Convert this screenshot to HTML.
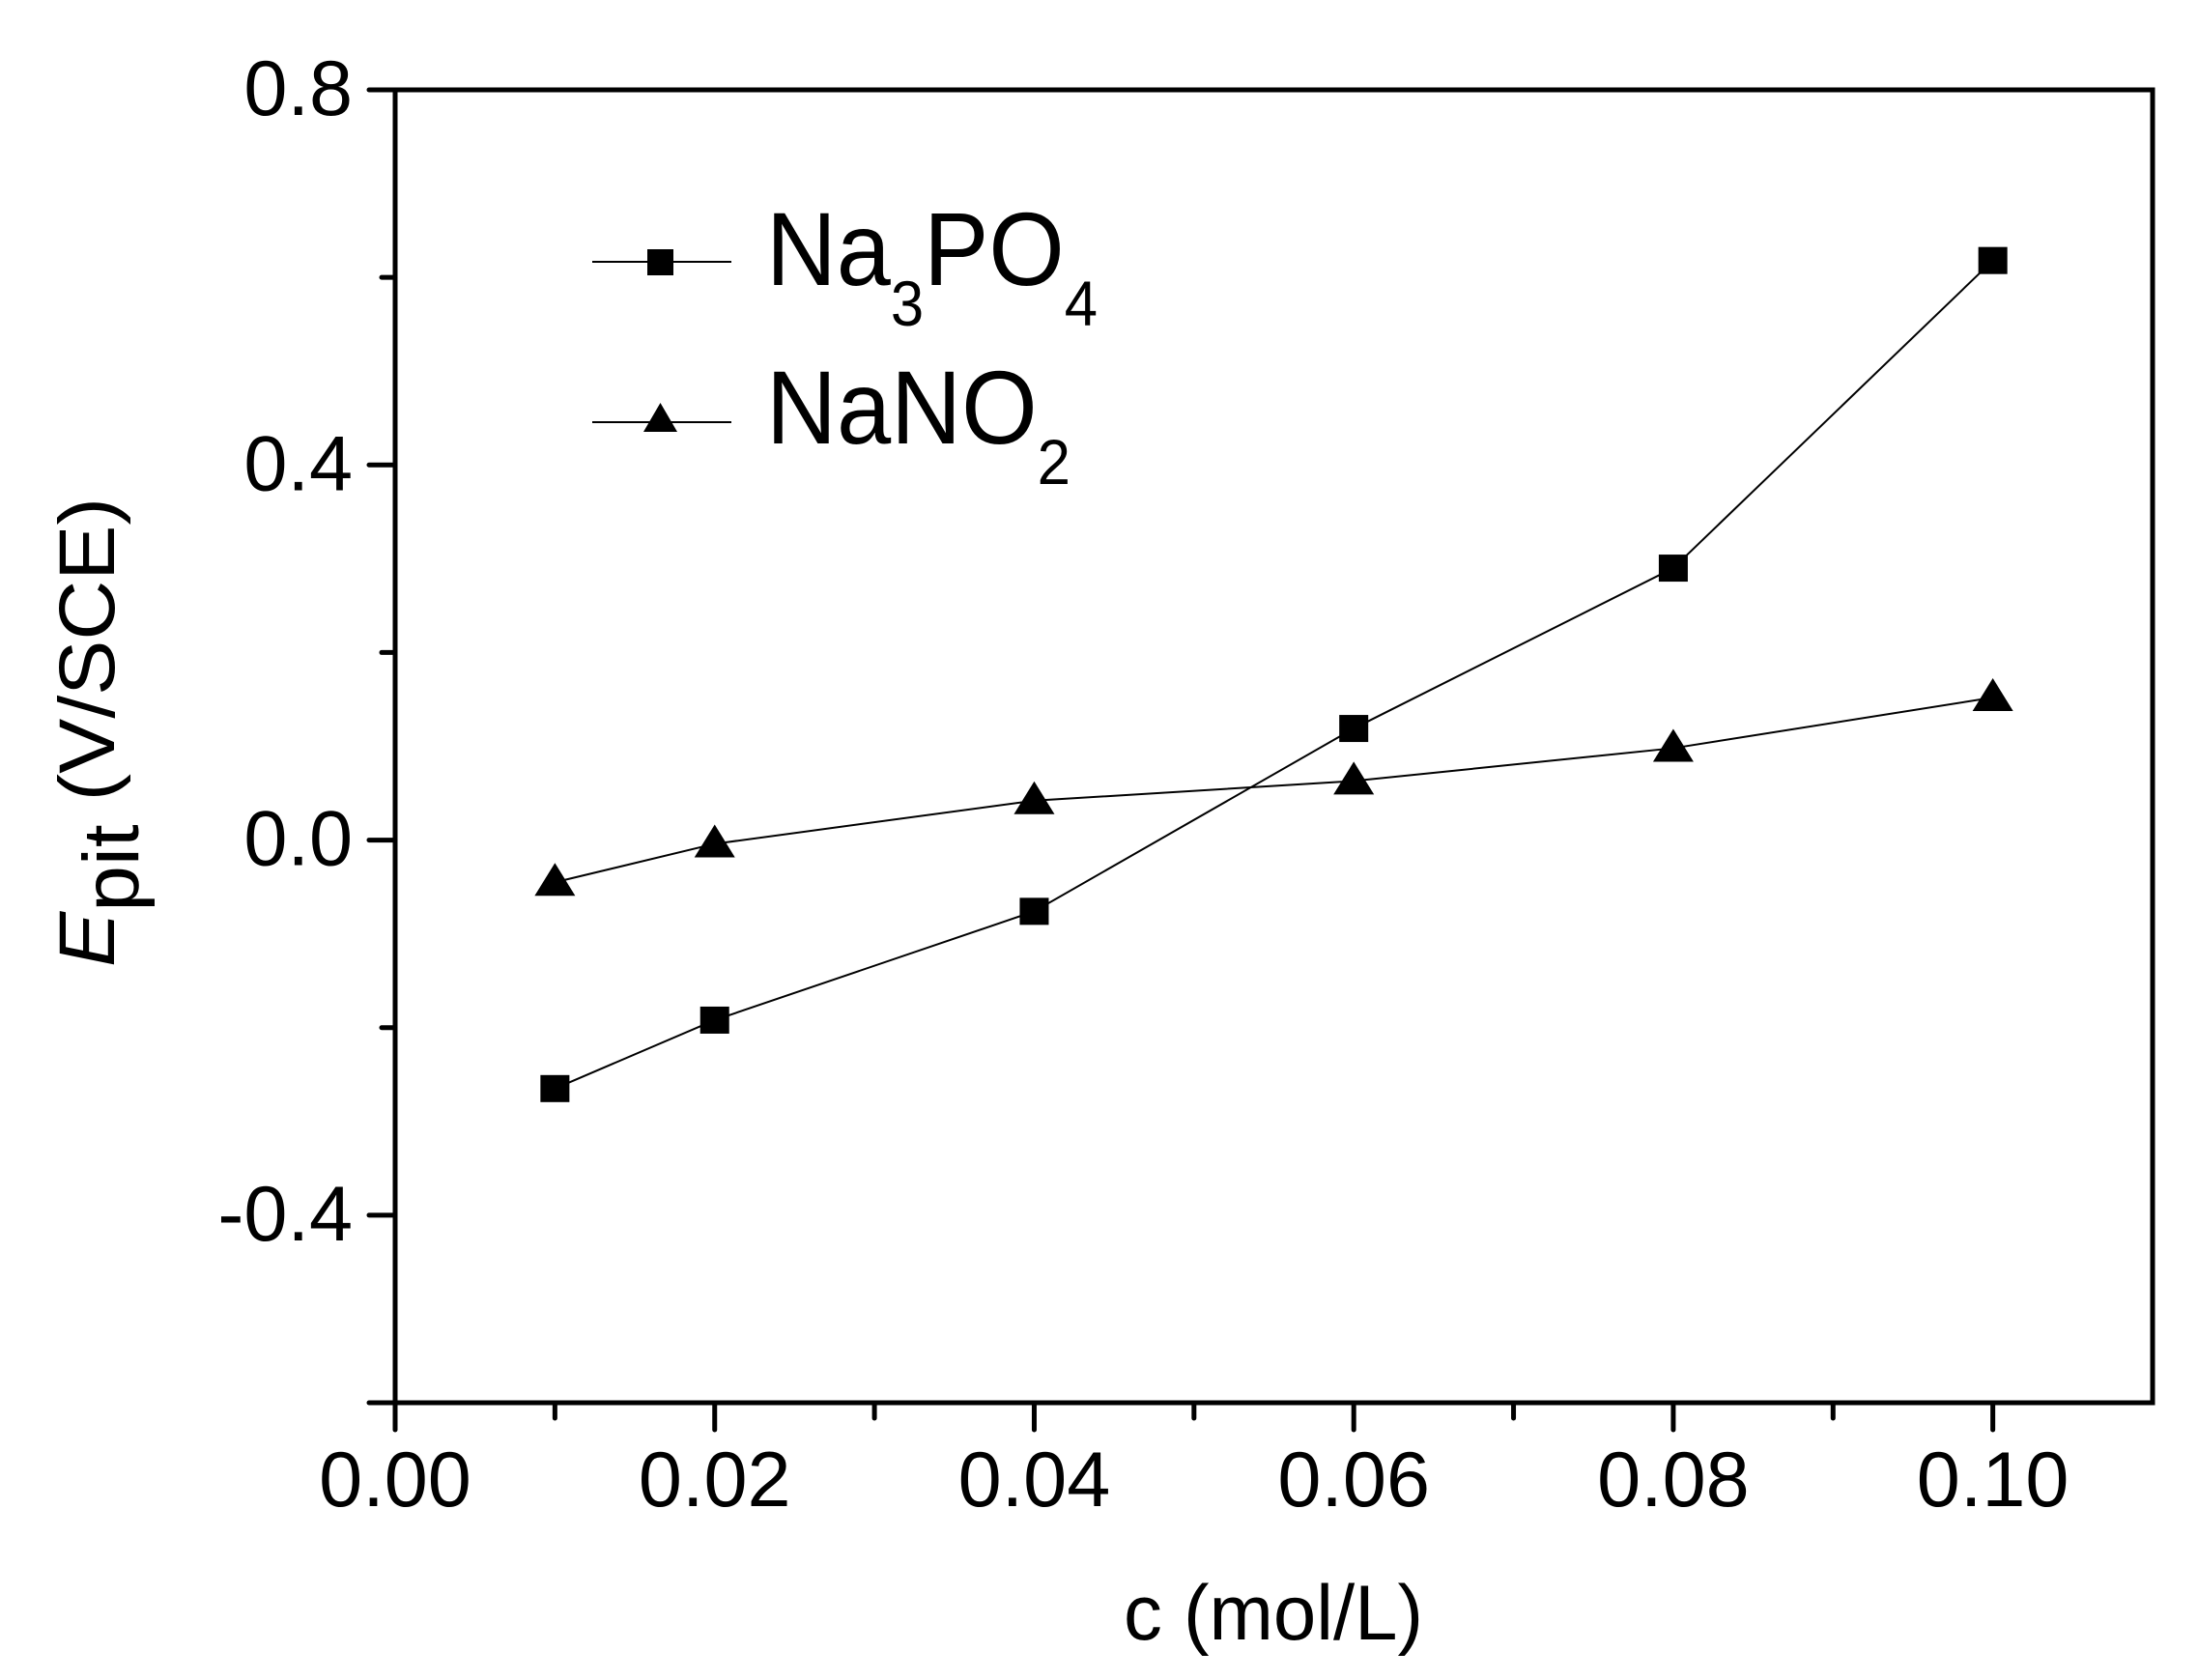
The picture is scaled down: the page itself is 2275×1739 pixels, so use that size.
<!DOCTYPE html>
<html><head><meta charset="utf-8"><style>
html,body{margin:0;padding:0;background:#fff;}
svg{display:block;font-family:"Liberation Sans",Arial,sans-serif;}
</style></head><body>
<svg id="chart" width="2275" height="1739" viewBox="0 0 2275 1739" xmlns="http://www.w3.org/2000/svg">
<rect width="2275" height="1739" fill="#fff"/>
<g id="axes"></g>
<g id="series"></g>
<g id="legend">
  <line x1="613" y1="271" x2="757" y2="271" stroke="#000" stroke-width="2"/>
  <rect x="670" y="258" width="27" height="27" fill="#000"/>
  <text x="793" y="295" font-size="108" textLength="343" lengthAdjust="spacingAndGlyphs">Na<tspan font-size="66" dy="42">3</tspan><tspan dy="-42">PO</tspan><tspan font-size="66" dy="42">4</tspan></text>
  <line x1="613" y1="437" x2="757" y2="437" stroke="#000" stroke-width="2"/>
  <polygon points="666,447 701,447 683.5,417" fill="#000"/>
  <text x="793" y="459" font-size="108" textLength="315" lengthAdjust="spacingAndGlyphs">NaNO<tspan font-size="66" dy="42">2</tspan></text>
</g>
<text x="1318" y="1697" font-size="81" text-anchor="middle" textLength="310" lengthAdjust="spacingAndGlyphs">c (mol/L)</text>
<text transform="translate(118,758) rotate(-90)" font-size="82" text-anchor="middle" textLength="486" lengthAdjust="spacingAndGlyphs"><tspan font-style="italic">E</tspan><tspan dy="25">pit</tspan><tspan dy="-25"> (V/SCE)</tspan></text>
</svg>
<script>
const categories = [0.01, 0.02, 0.04, 0.06, 0.08, 0.10];
const na3po4 = [-0.265, -0.192, -0.076, 0.119, 0.290, 0.618];
const nano2 = [-0.045, -0.004, 0.042, 0.063, 0.098, 0.152];
const xTicks = [0, 0.02, 0.04, 0.06, 0.08, 0.10];
const xTickLabels = ["0.00", "0.02", "0.04", "0.06", "0.08", "0.10"];
const xMinor = [0.01, 0.03, 0.05, 0.07, 0.09];
const yTicks = [0.8, 0.4, 0.0, -0.4];
const yTickLabels = ["0.8", "0.4", "0.0", "-0.4"];
const yMinor = [0.6, 0.2, -0.2, -0.6];

const L = 409, R = 2228, T = 93, B = 1452;
const xMin = 0, xMax = 0.11, yMin = -0.6, yMax = 0.8;
const NS = "http://www.w3.org/2000/svg";
function sx(v){ return L + (v - xMin) / (xMax - xMin) * (R - L); }
function sy(v){ return B - (v - yMin) / (yMax - yMin) * (B - T); }
function mk(tag, attrs, parent){
  const e = document.createElementNS(NS, tag);
  for (const k in attrs) e.setAttribute(k, attrs[k]);
  parent.appendChild(e);
  return e;
}
const axes = document.getElementById('axes');
const frame = mk('rect', {x:L, y:T, width:R-L, height:B-T, fill:'none', stroke:'#000', 'stroke-width':5}, axes);


xTicks.forEach((v, i) => {
  const t = mk('line', {x1:sx(v), x2:sx(v), y1:B, y2:B+28, stroke:'#000', 'stroke-width':5, 'stroke-linecap':'round'}, axes);
  
  
  const lb = mk('text', {x:sx(v), y:1559, 'font-size':81, 'text-anchor':'middle'}, axes);
  lb.textContent = xTickLabels[i];
  
  
});
xMinor.forEach(v => {
  const t = mk('line', {x1:sx(v), x2:sx(v), y1:B, y2:B+16, stroke:'#000', 'stroke-width':5, 'stroke-linecap':'round'}, axes);
  
  
});
yTicks.forEach((v, i) => {
  const t = mk('line', {x1:L-27, x2:L, y1:sy(v), y2:sy(v), stroke:'#000', 'stroke-width':5, 'stroke-linecap':'round'}, axes);
  
  
  const lb = mk('text', {x:365, y:sy(v)+26, 'font-size':81, 'text-anchor':'end'}, axes);
  lb.textContent = yTickLabels[i];
  
  
});
yMinor.forEach(v => {
  const len = (v === -0.6) ? 27 : 14;
  const t = mk('line', {x1:L-len, x2:L, y1:sy(v), y2:sy(v), stroke:'#000', 'stroke-width':5, 'stroke-linecap':'round'}, axes);
  
  
});

const series = document.getElementById('series');
function drawLine(vals, name){
  const pts = categories.map((c, i) => sx(c) + ',' + sy(vals[i])).join(' ');
  const pl = mk('polyline', {points:pts, fill:'none', stroke:'#000', 'stroke-width':2}, series);
  
  
}
drawLine(na3po4, 'na3po4-line');
drawLine(nano2, 'nano2-line');
categories.forEach((c, i) => {
  const x = sx(c), y = sy(na3po4[i]);
  const r = mk('rect', {x:x-15, y:y-14, width:30, height:28, fill:'#000'}, series);
  
  
});
categories.forEach((c, i) => {
  const x = sx(c), y = sy(nano2[i]);
  const p = mk('polygon', {points:(x-21)+','+(y+14)+' '+(x+21)+','+(y+14)+' '+x+','+(y-20), fill:'#000'}, series);
  
  
});
</script>
</body></html>
